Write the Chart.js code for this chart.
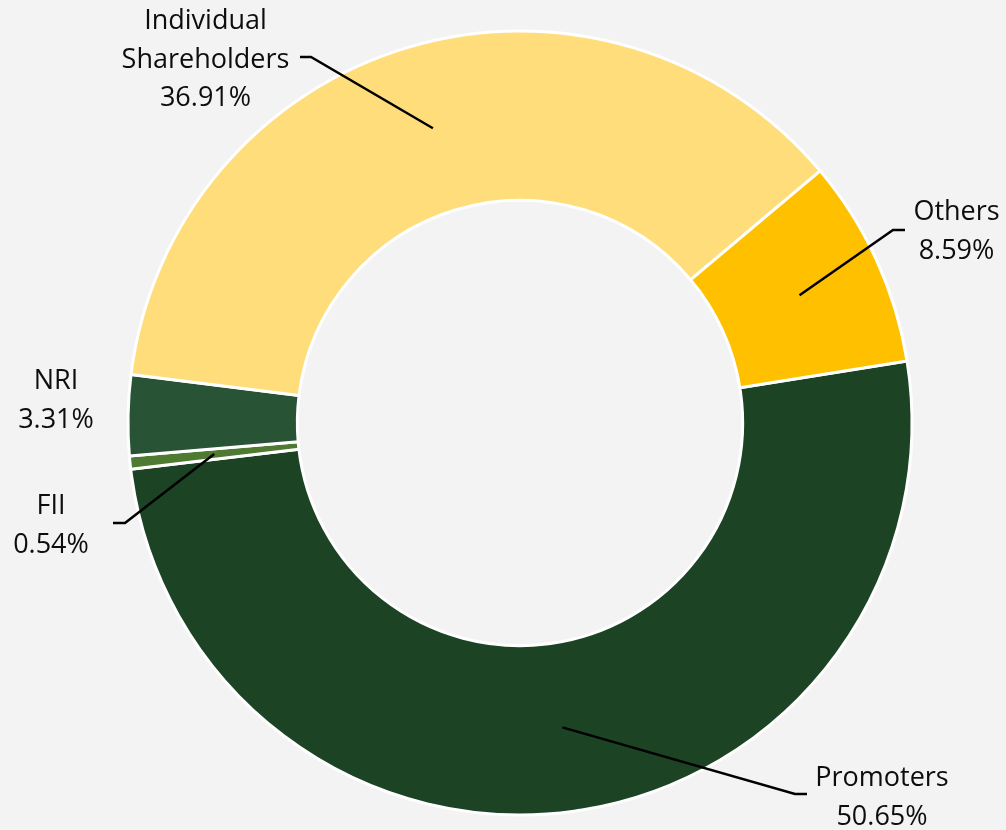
<!DOCTYPE html>
<html>
<head>
<meta charset="utf-8">
<script src="https://cdn.jsdelivr.net/npm/chart.js@4/dist/chart.umd.min.js"></script>
<style>
  html, body { margin: 0; padding: 0; background: #f3f3f3; }
  #wrap { width: 1006px; height: 830px; position: relative; }
</style>
</head>
<body>
<div id="wrap"><canvas id="c" width="1006" height="830"></canvas></div>
<script>
// ---- data ----
const categories = ['Promoters', 'FII', 'NRI', 'Individual Shareholders', 'Others'];
const shares = [50.65, 0.54, 3.31, 36.91, 8.59];
const labelLines = [['Promoters'], ['FII'], ['NRI'], ['Individual', 'Shareholders'], ['Others']];
const colors = ['#1c4424', '#4e7a31', '#285435', '#ffdd7a', '#ffc000'];

// ---- label layout (annotation placement, not data) ----
// text block centre, and leader-line end point (null = no leader)
const labelLayout = [
  { tx: 882, ty: 798, lead: { ex: 807, ey: 794, kx: 795 } },
  { tx: 51,  ty: 526, lead: { ex: 113, ey: 523, kx: 125 } },
  { tx: 56,  ty: 401, lead: null },
  { tx: 205.5, ty: 60, lead: { ex: 300, ey: 57, kx: 311 } },
  { tx: 956.5, ty: 232, lead: { ex: 905, ey: 230, kx: 893 } }
];

const FONT = '27px "Open Sans", "Noto Sans", sans-serif';
const LINE_H = 38.5;

const bgPlugin = {
  id: 'bg',
  beforeDraw(chart) {
    const ctx = chart.ctx;
    ctx.save();
    ctx.fillStyle = '#f3f3f3';
    ctx.fillRect(0, 0, chart.width, chart.height);
    ctx.restore();
  }
};

const labelPlugin = {
  id: 'labels',
  afterDraw(chart) {
    const ctx = chart.ctx;
    const meta = chart.getDatasetMeta(0);
    ctx.save();
    meta.data.forEach((arc, i) => {
      const p = arc.getProps(['x', 'y', 'startAngle', 'endAngle', 'innerRadius', 'outerRadius'], true);
      const mid = (p.startAngle + p.endAngle) / 2;
      const r = (p.innerRadius + p.outerRadius) / 2;
      const sx = p.x + Math.cos(mid) * r;
      const sy = p.y + Math.sin(mid) * r;
      const L = labelLayout[i];
      if (L.lead) {
        ctx.beginPath();
        ctx.strokeStyle = '#000';
        ctx.lineWidth = 2.5;
        ctx.moveTo(sx, sy);
        ctx.lineTo(L.lead.kx, L.lead.ey);
        ctx.lineTo(L.lead.ex, L.lead.ey);
        ctx.stroke();
      }
      const lines = labelLines[i].concat([shares[i].toFixed(2) + '%']);
      ctx.font = FONT;
      ctx.fillStyle = '#0d0d0d';
      ctx.textAlign = 'center';
      ctx.textBaseline = 'middle';
      const top = L.ty - (lines.length - 1) * LINE_H / 2;
      lines.forEach((t, k) => ctx.fillText(t, L.tx, top + k * LINE_H));
    });
    ctx.restore();
  }
};

new Chart(document.getElementById('c'), {
  type: 'doughnut',
  data: {
    labels: categories,
    datasets: [{
      data: shares,
      backgroundColor: colors,
      borderColor: '#ffffff',
      borderWidth: 3,
      hoverOffset: 0,
      offset: 0
    }]
  },
  options: {
    responsive: false,
    animation: false,
    events: [],
    rotation: 80.9,
    cutout: '56.8%',
    layout: { padding: { left: 100, right: 66, top: 29.5, bottom: 13.5 } },
    plugins: { legend: { display: false }, tooltip: { enabled: false } }
  },
  plugins: [bgPlugin, labelPlugin]
});
</script>
</body>
</html>
